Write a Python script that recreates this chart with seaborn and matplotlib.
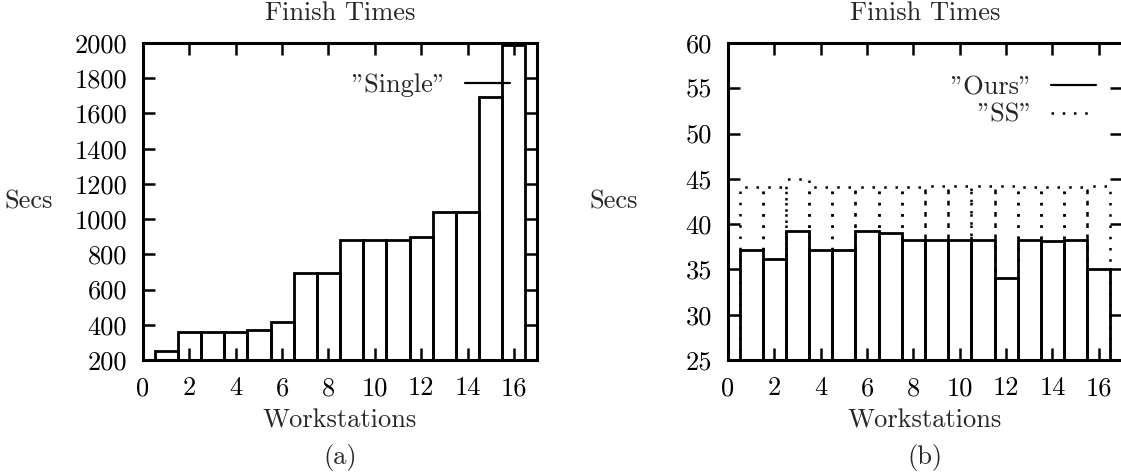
import numpy as np
import matplotlib
matplotlib.use("Agg")
import matplotlib.pyplot as plt
from matplotlib.lines import Line2D
import seaborn as sns

sns.set_theme(style="ticks")
plt.rcParams["font.family"] = ["cmr10", "DejaVu Serif"]
plt.rcParams["axes.formatter.use_mathtext"] = True
plt.rcParams["axes.unicode_minus"] = False

# data
workstations = list(range(1, 17))
single = [250, 360, 360, 360, 373, 417, 692, 692, 880, 880, 880, 901, 1043, 1043, 1695, 1990]
ours = [37.1, 36.1, 39.2, 37.2, 37.2, 39.2, 39.0, 38.2, 38.2, 38.2, 38.2, 34.0, 38.2, 38.1, 38.2, 35.1]
ss = [44.1, 44.1, 45.0, 44.1, 44.1, 44.1, 44.1, 44.1, 44.2, 44.2, 44.2, 44.2, 44.1, 44.1, 44.1, 44.2]

xticks = list(range(0, 17, 2))
yticks_a = list(range(200, 2001, 200))
yticks_b = list(range(25, 61, 5))

FS = 19
DOT = (0, (1, 3.5))
fig = plt.figure(figsize=(11.21, 4.74), dpi=100)
ax1 = fig.add_axes([0.1276, 0.2405, 0.3515, 0.6688])
ax2 = fig.add_axes([0.6494, 0.2405, 0.3515, 0.6688])

sns.barplot(x=workstations, y=single, native_scale=True, width=1, fill=False,
            color="black", linewidth=2, errorbar=None, ax=ax1)
sns.barplot(x=workstations, y=ss, native_scale=True, width=1, fill=False,
            color="black", linewidth=1.8, linestyle=DOT, errorbar=None, ax=ax2)
sns.barplot(x=workstations, y=ours, native_scale=True, width=1, fill=False,
            color="black", linewidth=2, errorbar=None, ax=ax2)

solid = Line2D([], [], color="black", lw=1.6)
dotted = Line2D([], [], color="black", lw=1.8, ls=DOT)

for ax, yt, lab in [(ax1, yticks_a, "(a)"), (ax2, yticks_b, "(b)")]:
    ax.set_xlim(0, 17)
    ax.set_ylim(yt[0], yt[-1])
    ax.set_xticks(xticks)
    ax.set_xticklabels([str(t) for t in xticks])
    ax.set_yticks(yt)
    ax.set_yticklabels([str(t) for t in yt])
    ax.tick_params(direction="in", top=True, right=True, length=8.6, width=1.8,
                   labelsize=FS, color="black", labelcolor="black")
    ax.tick_params(axis="y", pad=11.5)
    ax.tick_params(axis="x", pad=12)
    for s in ax.spines.values():
        s.set_linewidth(2.2)
        s.set_color("black")
    ax.set_title("Finish Times", fontsize=FS, pad=16.5)
    ax.set_xlabel("Workstations", fontsize=FS, va="center")
    ax.xaxis.set_label_coords(0.5, -0.19)
    ax.set_ylabel("Secs", fontsize=FS, rotation=0, ha="right", va="center")
    ax.yaxis.set_label_coords(-0.228, 0.5)
    pos = ax.get_position()
    fig.text(pos.x0 + pos.width / 2, 0.034, lab, fontsize=FS, ha="center", va="center")

ax1.legend([solid], ['"Single"'], loc="upper right", bbox_to_anchor=(0.931, 0.905),
           frameon=False, markerfirst=False, fontsize=FS, handlelength=1.7,
           handletextpad=0.7, borderpad=0, borderaxespad=0)
ax2.legend([solid, dotted], ['"Ours"', '"SS"'], loc="upper right",
           bbox_to_anchor=(0.934, 0.898), frameon=False, markerfirst=False,
           fontsize=FS, handlelength=1.7, handletextpad=0.7, labelspacing=0.15,
           borderpad=0, borderaxespad=0)

fig.savefig("out.png", dpi=100)
